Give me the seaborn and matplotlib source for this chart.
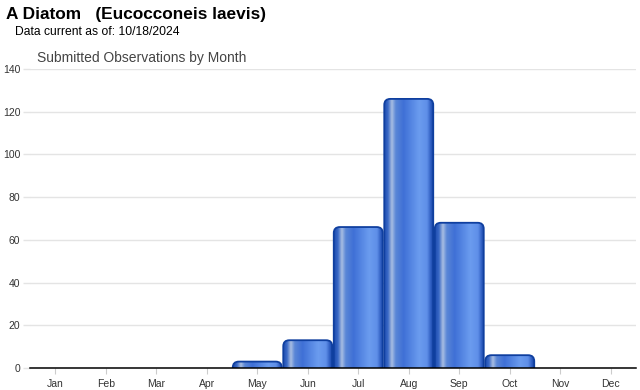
import matplotlib
matplotlib.use("Agg")
import matplotlib.pyplot as plt
import seaborn as sns
import numpy as np
import pandas as pd
from matplotlib.patches import FancyBboxPatch
from matplotlib.colors import LinearSegmentedColormap

months = ["Jan", "Feb", "Mar", "Apr", "May", "Jun", "Jul", "Aug", "Sep", "Oct", "Nov", "Dec"]
counts = [0, 0, 0, 0, 3, 13, 66, 126, 68, 6, 0, 0]
yticks = [0, 20, 40, 60, 80, 100, 120, 140]

title = "A Diatom   (Eucocconeis laevis)"
subtitle = "Data current as of: 10/18/2024"
chart_title = "Submitted Observations by Month"

sns.set_theme(style="white")
plt.rcParams["font.family"] = ["Liberation Sans", "DejaVu Sans"]

fig = plt.figure(figsize=(6.4, 3.9), dpi=100)
ax = fig.add_axes([30 / 640, 1 - 368 / 390, 606 / 640, (368 - 69) / 390])

df = pd.DataFrame({"month": months, "count": counts})
sns.barplot(data=df, x="month", y="count", ax=ax, width=0.97, color="#3366cc")

ax.set_ylim(0, 140)
ax.set_xlim(-0.5, 11.5)
ax.set_yticks(yticks)
ax.set_xlabel("")
ax.set_ylabel("")
ax.grid(axis="y", color="#e4e4e4", linewidth=1)
ax.set_axisbelow(True)
for s in ["top", "right", "left"]:
    ax.spines[s].set_visible(False)
ax.spines["bottom"].set_color("#000000")
ax.spines["bottom"].set_linewidth(1.1)
ax.spines["bottom"].set_zorder(5)
ax.tick_params(axis="y", length=5, color="#e4e4e4", width=1, labelsize=7.5,
               labelcolor="#333333", pad=2, left=True)
ax.tick_params(axis="x", length=4, color="#cccccc", width=0.8, labelsize=7.5,
               labelcolor="#333333", pad=4, bottom=True, direction="out")

cmap = LinearSegmentedColormap.from_list("cyl", [
    (0.0, "#1d4cb0"), (0.08, "#3a69c6"), (0.16, "#a9bee2"), (0.24, "#5a86d6"),
    (0.40, "#3f70d6"), (0.72, "#6b9cef"), (0.88, "#5f8fe8"), (0.96, "#2d5cc0"),
    (1.0, "#1a49a8")])
grad = np.linspace(0, 1, 256).reshape(1, -1)

# pixels per data unit
px_x = 606 / 12.0
px_y = (368 - 69) / 140.0
aspect = px_x / px_y
r_px = 6.0
for p in list(ax.patches):
    x0, w, h = p.get_x(), p.get_width(), p.get_height()
    p.set_visible(False)
    if h <= 0:
        continue
    r = r_px / px_x
    ry = r * aspect
    y0 = -ry
    hh = h + ry
    r_eff = min(r, hh / aspect / 2, w / 2)
    box = FancyBboxPatch((x0, y0), w, hh,
                         boxstyle=f"round,pad=0,rounding_size={r_eff}",
                         mutation_aspect=aspect, facecolor="none",
                         edgecolor="#0f3f9f", linewidth=1.3, zorder=3)
    ax.add_patch(box)
    im = ax.imshow(grad, cmap=cmap, aspect="auto", extent=(x0, x0 + w, y0, h),
                   zorder=2, interpolation="bilinear")
    im.set_clip_path(box)
ax.set_xlim(-0.5, 11.5)
ax.set_ylim(0, 140)

fig.text(6 / 640, 1 - 15 / 390, title, fontsize=12.4, fontweight="bold",
         color="#000000", va="center", ha="left")
fig.text(15 / 640, 1 - 32 / 390, subtitle, fontsize=8.7, color="#000000",
         va="center", ha="left")
fig.text(37 / 640, 1 - 58 / 390, chart_title, fontsize=10, color="#444444",
         va="center", ha="left")

fig.savefig("out.png", dpi=100)
